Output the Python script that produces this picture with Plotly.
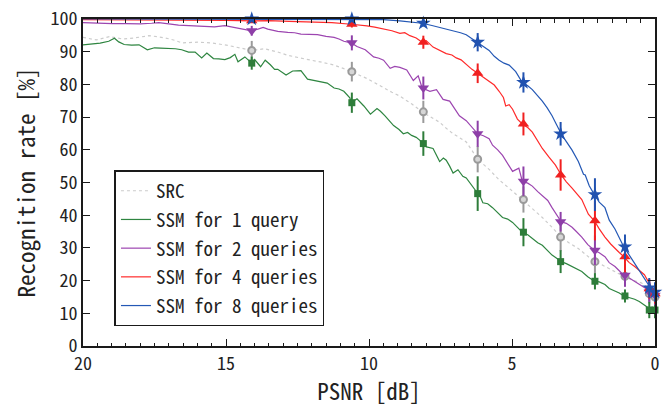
import plotly.graph_objects as go

# ---------------- data ----------------
src_x = [20.0, 19.54, 19.08, 18.62, 18.2, 17.7, 17.4, 17.12, 16.8, 16.54, 16.0, 15.5, 14.92, 14.5, 14.1,
         13.65, 13.19, 12.84, 12.4, 12.03, 11.6, 11.22, 10.9, 10.62, 10.3, 10.07, 9.8, 9.49, 9.2, 8.92,
         8.5, 8.14, 7.8, 7.53, 7.3, 7.06, 6.85, 6.6, 6.4, 6.2, 5.8, 5.45, 5.0, 4.64, 4.3, 3.94, 3.6,
         3.28, 3.0, 2.68, 2.4, 2.12, 1.85, 1.64, 1.35, 1.09, 0.8, 0.48, 0.2, 0.0]
src_y = [94.4, 93.6, 94.6, 93.9, 94.2, 94.9, 94.6, 94.2, 93.5, 92.7, 92.9, 92.7, 91.9, 91.2, 90.4,
         90.9, 89.9, 88.9, 88.0, 87.4, 86.7, 85.9, 84.9, 83.9, 82.7, 81.8, 80.5, 78.9, 77.6, 76.4,
         74.0, 71.6, 69.9, 68.4, 66.6, 64.9, 63.8, 62.4, 59.8, 57.1, 54.0, 50.8, 47.5, 44.8, 42.0, 39.3, 36.3,
         33.3, 31.5, 29.8, 27.8, 25.8, 24.8, 23.8, 22.5, 21.3, 20.2, 19.3, 17.5, 16.5]

q1_x = [20.0, 19.7, 19.4, 19.1, 18.9, 18.75, 18.56, 18.3, 18.04, 17.75, 17.5, 17.29, 17.0, 16.77, 16.55,
        16.31, 16.08, 15.85, 15.67, 15.44, 15.25, 15.04, 14.85, 14.69, 14.58, 14.34, 14.1, 14.0, 13.79,
        13.63, 13.45, 13.3, 13.19, 12.9, 12.67, 12.38, 12.15, 11.95, 11.8, 11.6, 11.46, 11.22, 11.05,
        10.88, 10.67, 10.62, 10.5, 10.42, 10.18, 9.95, 9.72, 9.6, 9.44, 9.3, 9.14, 8.95, 8.8, 8.65, 8.51,
        8.35, 8.22, 8.14, 7.99, 7.76, 7.62, 7.53, 7.4, 7.3, 7.18, 7.06, 6.89, 6.72, 6.6, 6.4, 6.2, 6.1,
        6.02, 5.85, 5.68, 5.5, 5.33, 5.15, 4.98, 4.8, 4.64, 4.45, 4.29, 4.1, 3.94, 3.75, 3.6, 3.45, 3.28,
        3.1, 2.9, 2.75, 2.56, 2.35, 2.12, 1.95, 1.75, 1.6, 1.4, 1.25, 1.09, 0.9, 0.71, 0.55, 0.37, 0.25,
        0.16, 0.0]
q1_y = [92.1, 92.3, 92.6, 93.2, 94.1, 93.0, 92.2, 92.0, 92.1, 90.6, 91.2, 91.1, 91.0, 90.9, 90.6,
        89.9, 89.9, 88.1, 89.6, 87.9, 87.8, 87.6, 88.2, 89.2, 86.9, 88.4, 86.5, 87.6, 85.4,
        87.4, 86.0, 84.6, 84.6, 82.9, 84.1, 84.2, 81.6, 81.3, 81.0, 80.6, 80.4, 78.9, 78.6,
        77.9, 75.9, 74.4, 75.2, 75.6, 73.4, 70.9, 72.6, 71.8, 70.4, 69.0, 67.4, 66.2, 64.9, 65.3, 64.4,
        63.8, 62.9, 61.9, 60.9, 60.4, 58.0, 56.4, 57.5, 56.8, 55.0, 52.9, 53.9, 51.9, 51.4, 48.9, 46.6, 45.5,
        43.8, 43.5, 42.3, 40.6, 39.3, 38.8, 37.8, 36.2, 34.8, 34.0, 32.8, 31.6, 30.8, 29.2, 27.8, 26.9, 25.8,
        25.2, 24.3, 23.4, 22.8, 21.2, 19.8, 19.6, 18.8, 17.6, 16.8, 16.2, 15.3, 14.9, 14.3, 13.6, 12.6, 11.8,
        11.0, 11.0]

q2_x = [20.0, 19.5, 18.97, 18.5, 18.0, 17.6, 17.35, 17.0, 16.66, 16.3, 16.08, 15.7, 15.4, 15.04, 14.8,
        14.58, 14.35, 14.1, 13.88, 13.7, 13.54, 13.19, 12.84, 12.6, 12.38, 12.1, 11.8, 11.5, 11.22, 11.05,
        10.88, 10.62, 10.42, 10.13, 9.84, 9.65, 9.49, 9.26, 9.1, 8.92, 8.68, 8.45, 8.28, 8.14, 7.87, 7.64,
        7.41, 7.18, 7.0, 6.84, 6.6, 6.4, 6.2, 6.0, 5.8, 5.68, 5.5, 5.33, 5.15, 4.98, 4.76, 4.64, 4.45, 4.29,
        4.1, 3.94, 3.75, 3.6, 3.45, 3.28, 3.1, 2.9, 2.75, 2.56, 2.35, 2.12, 1.95, 1.75, 1.6, 1.4, 1.25, 1.09,
        0.9, 0.71, 0.55, 0.37, 0.16, 0.0]
q2_y = [98.9, 98.7, 98.6, 98.6, 98.5, 98.7, 98.9, 98.5, 98.1, 98.0, 97.9, 97.7, 97.6, 98.0, 97.6,
        97.4, 97.0, 96.4, 96.9, 97.4, 96.9, 96.2, 95.9, 95.8, 95.4, 95.3, 95.2, 94.7, 94.4, 93.9,
        93.2, 92.7, 91.6, 90.6, 88.4, 88.0, 87.4, 84.9, 85.5, 85.2, 84.4, 81.2, 82.6, 78.9, 77.9, 78.4,
        75.4, 74.9, 72.5, 70.4, 68.9, 66.8, 64.9, 64.3, 63.4, 61.4, 60.0, 58.3, 55.8, 53.4, 54.4, 50.4, 49.8, 48.9,
        47.2, 45.9, 44.5, 42.3, 40.2, 38.0, 37.5, 36.3, 35.0, 33.3, 31.0, 29.3, 28.5, 27.3, 25.5, 24.3, 23.0, 21.6,
        20.8, 19.8, 18.8, 17.8, 16.8, 15.8]

q4_x = [20.0, 18.0, 16.0, 15.0, 14.1, 13.5, 12.8, 12.0, 11.3, 10.62, 10.3, 10.07, 9.8, 9.49, 9.2, 8.92,
        8.75, 8.57, 8.35, 8.14, 8.0, 7.76, 7.55, 7.3, 7.1, 6.95, 6.78, 6.6, 6.4, 6.2, 6.0, 5.8, 5.62,
        5.45, 5.3, 5.22, 5.1, 4.98, 4.81, 4.64, 4.45, 4.29, 4.1, 3.94, 3.72, 3.48, 3.28, 3.1, 2.9, 2.72,
        2.56, 2.33, 2.12, 1.95, 1.75, 1.55, 1.4, 1.25, 1.09, 0.9, 0.71, 0.55, 0.37, 0.16, 0.0]
q4_y = [99.8, 99.8, 99.7, 99.6, 99.4, 99.5, 99.3, 99.1, 98.9, 98.4, 98.2, 97.9, 97.5, 96.9, 96.4, 95.6,
        95.8, 94.9, 94.2, 92.9, 93.4, 91.4, 90.6, 89.4, 89.0, 88.1, 87.5, 86.0, 84.6, 83.4, 82.2, 80.9, 79.8,
        77.9, 76.0, 73.4, 73.8, 72.4, 69.4, 67.9, 66.8, 65.4, 62.5, 60.4, 57.9, 55.3, 52.3, 50.2, 48.3, 46.5,
        44.8, 40.3, 38.3, 35.8, 33.3, 31.2, 29.8, 28.6, 27.3, 25.5, 24.3, 23.0, 21.8, 18.5, 16.8]

q8_x = [20.0, 17.0, 14.1, 12.0, 10.6, 9.5, 8.92, 8.5, 8.14, 7.8, 7.53, 7.3, 7.06, 6.8, 6.6, 6.4, 6.2,
        6.0, 5.8, 5.62, 5.45, 5.28, 5.1, 4.87, 4.64, 4.45, 4.29, 4.1, 3.94, 3.77, 3.6, 3.45, 3.28, 3.1,
        2.9, 2.68, 2.5, 2.44, 2.3, 2.12, 1.95, 1.75, 1.6, 1.4, 1.25, 1.09, 0.9, 0.71, 0.55, 0.37, 0.16, 0.0]
q8_y = [100.0, 100.0, 100.0, 100.0, 100.0, 99.8, 99.4, 99.1, 98.7, 98.0, 97.4, 97.0, 96.4, 95.8, 95.2, 94.0, 92.9,
        91.8, 90.4, 88.6, 87.4, 86.5, 85.9, 83.9, 80.6, 79.6, 78.4, 76.5, 74.9, 72.8, 70.4, 67.8, 64.9, 62.5,
        59.9, 56.4, 52.5, 52.3, 49.0, 46.3, 44.0, 42.3, 38.5, 35.8, 33.0, 30.3, 27.8, 25.3, 23.0, 20.8, 17.8, 17.4]

# markers with error bars
mk_x = [14.1, 10.6, 8.1, 6.2, 4.6, 3.3, 2.1, 1.05, 0.2, 0.0]
src_mk = [90.4, 83.9, 71.6, 57.1, 44.8, 33.3, 25.8, 21.3, 16.0, 15.0]
src_err = [2.9, 3.0, 3.4, 4.0, 4.0, 4.3, 3.5, 3.0, 3.0, 3.0]
q1_mk = [86.5, 74.4, 61.9, 46.6, 34.8, 25.8, 19.8, 15.3, 11.0, 11.0]
q1_err = [2.0, 3.1, 3.75, 5.3, 4.3, 3.5, 2.5, 2.0, 2.5, 2.5]
q2_mk = [96.4, 92.7, 78.9, 64.9, 50.4, 38.0, 29.3, 21.6, 16.5, 15.5]
q2_err = [1.5, 2.3, 3.5, 4.0, 4.5, 3.0, 4.5, 3.5, 3.0, 3.0]
q4_mk = [99.5, 98.4, 92.9, 83.4, 67.9, 52.3, 38.3, 27.3, 17.5, 16.0]
q4_err = [0.5, 1.0, 2.0, 3.0, 3.5, 4.8, 6.0, 4.8, 3.0, 3.0]
q8_mk = [100.0, 100.0, 98.7, 92.9, 80.6, 64.9, 46.3, 30.3, 17.8, 16.5]
q8_err = [0.5, 0.5, 1.0, 2.8, 3.1, 3.6, 5.0, 3.8, 3.0, 3.0]

names = ["SRC", "SSM for 1 query", "SSM for 2 queries", "SSM for 4 queries", "SSM for 8 queries"]
x_ticks = [20, 15, 10, 5, 0]
y_ticks = [0, 10, 20, 30, 40, 50, 60, 70, 80, 90, 100]

# ---------------- figure ----------------
MONO = "Noto Sans Mono CJK JP, DejaVu Sans Mono, monospace"
series = [
    (src_x, src_y, src_mk, src_err, "#cccccc", "#9a9a9a", "circle", 7, "dot"),
    (q1_x, q1_y, q1_mk, q1_err, "#2e8540", "#2e7d3a", "square", 7, "solid"),
    (q2_x, q2_y, q2_mk, q2_err, "#9c45b0", "#8e3fa8", "triangle-down", 10, "solid"),
    (q4_x, q4_y, q4_mk, q4_err, "#ff2a2a", "#f02020", "triangle-up", 10, "solid"),
    (q8_x, q8_y, q8_mk, q8_err, "#2458b5", "#2152b0", "star", 11, "solid"),
]

fig = go.Figure()
for i, (sx, sy, _, _, lc, _, _, _, dash) in enumerate(series):
    fig.add_trace(go.Scatter(
        x=sx, y=sy, mode="lines", name=names[i], legendgroup=f"g{i}",
        line=dict(color=lc, width=1.2, dash=dash),
    ))
for i, (_, _, my, me, _, mc, sym, sz, _) in enumerate(series):
    mk = dict(color=mc, size=sz, symbol=sym, line=dict(width=0))
    if sym == "circle":
        mk = dict(color="#d6d6d6", size=sz, symbol=sym, line=dict(color=mc, width=2))
    fig.add_trace(go.Scatter(
        x=mk_x, y=my, mode="markers", showlegend=False, cliponaxis=False,
        marker=mk,
        error_y=dict(type="data", array=me, visible=True, color=mc, thickness=2, width=0),
    ))

axis_common = dict(
    showline=True, linecolor="#1a1a1a", linewidth=2, mirror="allticks",
    ticks="inside", ticklen=7, tickwidth=1.2, tickcolor="#1a1a1a",
    showgrid=False, zeroline=False, ticklabeloverflow="allow",
    tickfont=dict(family=MONO, size=18, color="#222"),
)
fig.update_xaxes(
    range=[20, 0], tickvals=x_ticks, **axis_common,
    minor=dict(dtick=0.5, ticklen=3.5, ticks="inside", tickcolor="#1a1a1a", tickwidth=1),
    title=dict(text="PSNR [dB]", font=dict(family=MONO, size=23, color="#222"), standoff=4),
)
fig.update_yaxes(
    range=[0, 100], tickvals=y_ticks, **axis_common,
    title=dict(text="Recognition rate [%]", font=dict(family=MONO, size=23, color="#222"), standoff=8),
)
fig.update_layout(
    width=664, height=407,
    margin=dict(l=83, r=4, t=13, b=61),
    paper_bgcolor="white", plot_bgcolor="white",
    legend=dict(
        x=0.055, y=0.537, xanchor="left", yanchor="top",
        bgcolor="white", bordercolor="#1a1a1a", borderwidth=1.5,
        font=dict(family=MONO, size=19, color="#222"),
        tracegroupgap=1, itemwidth=30,
    ),
)
fig.write_html("out.html", config={"displayModeBar": False},
               post_script="document.body.style.margin='0';")
